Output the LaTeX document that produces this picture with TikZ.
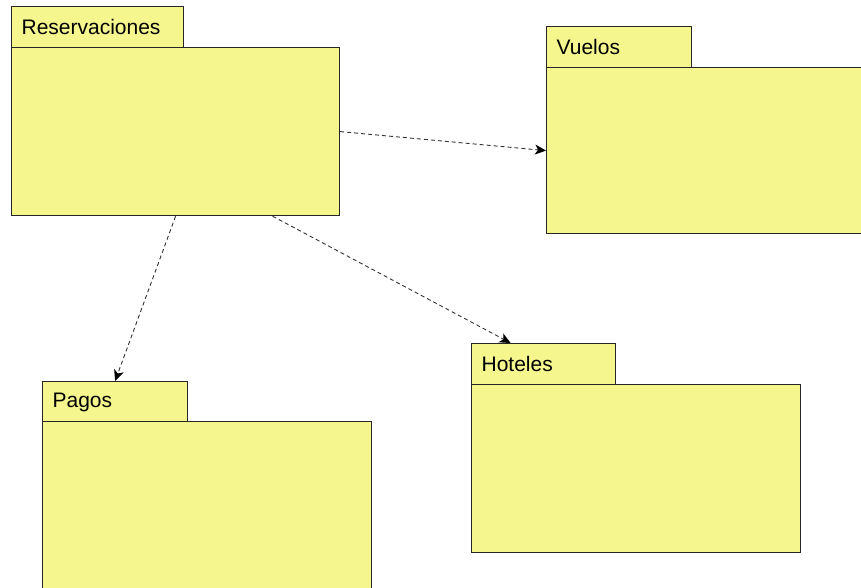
\documentclass[tikz,border=0pt]{standalone}
\usepackage{fontspec}
\setmainfont{Liberation Sans}
\usetikzlibrary{arrows.meta}
\definecolor{pkgyellow}{RGB}{246,246,142}
\tikzset{
  pkgbody/.style={draw=black!85, fill=pkgyellow, line width=1.2pt, anchor=north west, inner sep=0pt},
  pkgtab/.style={draw=black!85, fill=pkgyellow, line width=1.2pt, anchor=north west, inner xsep=10pt, inner ysep=0pt,
    minimum height=41pt, align=left, font=\fontsize{21}{24}\selectfont},
  dep/.style={draw=black!80, line width=0.9pt, dash pattern=on 4pt off 3pt,
    -{Stealth[length=11pt,width=10pt,inset=3pt,color=black,fill=black]}}
}
\begin{document}
\begin{tikzpicture}[x=1pt, y=-1pt]
  \useasboundingbox (0,0) rectangle (861,588);
  % Reservaciones
  \node[pkgtab, text width=152pt] (restab) at (11,6) {Reservaciones};
  \node[pkgbody, minimum width=328pt, minimum height=168pt] (res) at (11,47) {};
  % Vuelos
  \node[pkgtab, text width=125pt] (vuetab) at (546,26) {Vuelos};
  \node[pkgbody, minimum width=325pt, minimum height=166pt] (vue) at (546,67) {};
  % Pagos
  \node[pkgtab, text width=125pt] (pagtab) at (42,381) {Pagos};
  \node[pkgbody, minimum width=329pt, minimum height=180pt] (pag) at (42,421) {};
  % Hoteles
  \node[pkgtab, text width=124pt] (hottab) at (471,343) {Hoteles};
  \node[pkgbody, minimum width=329pt, minimum height=168pt] (hot) at (471,384) {};
  % dependencias
  \draw[dep] (res.east) -- (vue.west);
  \draw[dep] (res.south) -- (pagtab.north);
  \draw[dep] ([xshift=97pt]res.south) -- ([xshift=-33pt]hottab.north);
\end{tikzpicture}
\end{document}
